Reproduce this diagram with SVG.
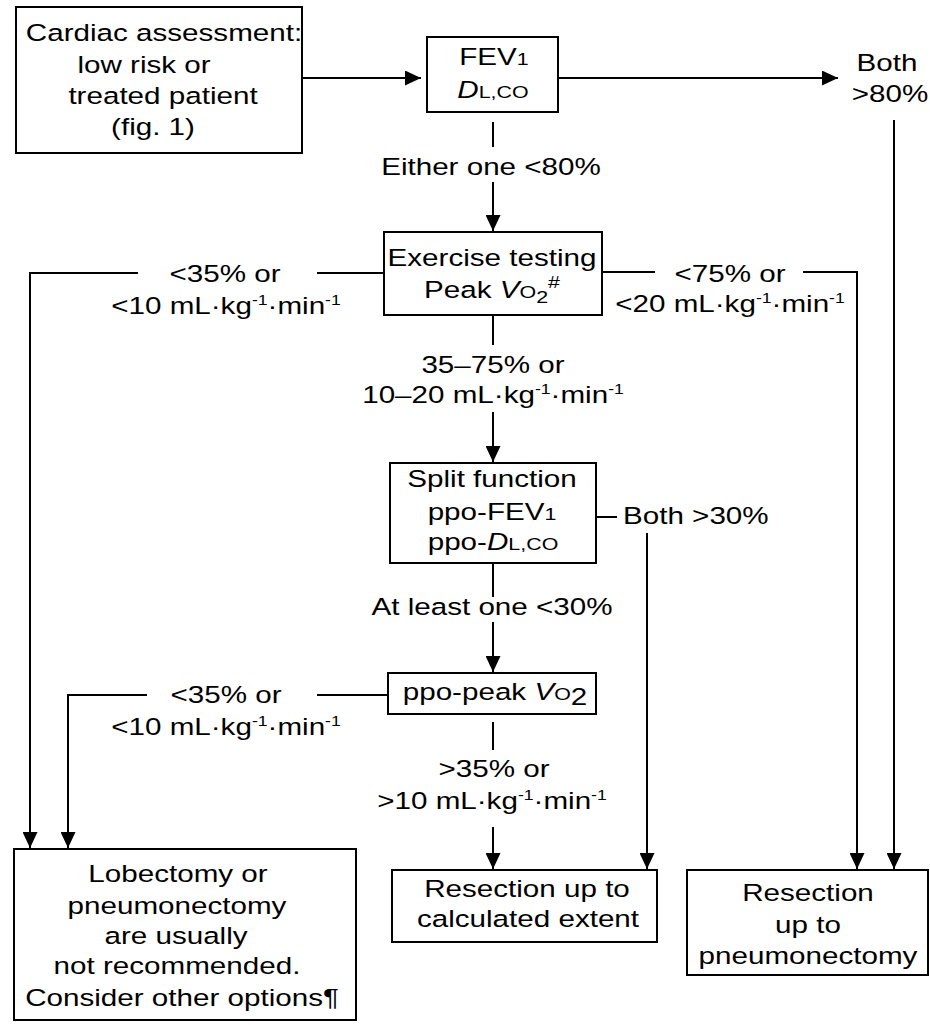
<svg xmlns="http://www.w3.org/2000/svg" width="930" height="1025" viewBox="0 0 930 1025">
<style>
.t{font-family:"Liberation Sans",Arial,Helvetica,sans-serif;font-size:23.5px;fill:#000;text-anchor:middle}
.s{text-anchor:start}
.box{fill:#fff;stroke:#000;stroke-width:2}
.ln{fill:none;stroke:#000;stroke-width:2}
.arr{marker-end:url(#ah)}
.sm{font-size:17px}
.sup{font-size:14px}
</style>
<defs>
<marker id="ah" markerUnits="userSpaceOnUse" markerWidth="17" markerHeight="15" refX="16" refY="7.5" orient="auto">
<path d="M0,0 L16,7.5 L0,15 Z" fill="#000"/>
</marker>
</defs>
<rect width="930" height="1025" fill="#fff"/>

<g id="connectors">
<path class="ln arr" d="M302,78 H421"/>
<path class="ln arr" d="M558,78 H838"/>
<path class="ln" d="M493,122 V147"/>
<path class="ln arr" d="M493,182 V231"/>
<path class="ln arr" d="M894,120 V869"/>
<path class="ln" d="M384,273 H317"/>
<path class="ln arr" d="M138,273 H30 V848"/>
<path class="ln" d="M602,272 H655"/>
<path class="ln arr" d="M803,272 H857 V869"/>
<path class="ln" d="M493,315 V345"/>
<path class="ln arr" d="M493,412 V462"/>
<path class="ln" d="M596,517 H617"/>
<path class="ln arr" d="M647,533 V869"/>
<path class="ln" d="M493,563 V597"/>
<path class="ln arr" d="M493,622 V672"/>
<path class="ln" d="M388,695 H317"/>
<path class="ln arr" d="M147,695 H68 V848"/>
<path class="ln" d="M493,722 V750"/>
<path class="ln arr" d="M493,827 V869"/>
<g id="labels">
<text class="t" transform="translate(887,71) scale(1.26,1)">Both</text>
<text class="t" transform="translate(890,102) scale(1.26,1)">&gt;80%</text>
<text class="t" transform="translate(491,175) scale(1.26,1)">Either one &lt;80%</text>
<text class="t" transform="translate(225,282) scale(1.26,1)">&lt;35% or</text>
<text class="t" transform="translate(226,314) scale(1.26,1)">&lt;10 mL·kg<tspan class="sup" dy="-9">-1</tspan><tspan dy="9">·min</tspan><tspan class="sup" dy="-9">-1</tspan></text>
<text class="t" transform="translate(730,282) scale(1.26,1)">&lt;75% or</text>
<text class="t" transform="translate(730,312) scale(1.26,1)">&lt;20 mL·kg<tspan class="sup" dy="-9">-1</tspan><tspan dy="9">·min</tspan><tspan class="sup" dy="-9">-1</tspan></text>
<text class="t" transform="translate(493,373) scale(1.26,1)">35–75% or</text>
<text class="t" transform="translate(493,403) scale(1.26,1)">10–20 mL·kg<tspan class="sup" dy="-9">-1</tspan><tspan dy="9">·min</tspan><tspan class="sup" dy="-9">-1</tspan></text>
<text class="t s" transform="translate(623,524) scale(1.26,1)">Both &gt;30%</text>
<text class="t" transform="translate(492,615) scale(1.26,1)">At least one &lt;30%</text>
<text class="t" transform="translate(226,703) scale(1.26,1)">&lt;35% or</text>
<text class="t" transform="translate(226,735) scale(1.26,1)">&lt;10 mL·kg<tspan class="sup" dy="-9">-1</tspan><tspan dy="9">·min</tspan><tspan class="sup" dy="-9">-1</tspan></text>
<text class="t" transform="translate(494,777) scale(1.26,1)">&gt;35% or</text>
<text class="t" transform="translate(492,809) scale(1.26,1)">&gt;10 mL·kg<tspan class="sup" dy="-9">-1</tspan><tspan dy="9">·min</tspan><tspan class="sup" dy="-9">-1</tspan></text>
</g>
</g>

<g id="n-cardiac">
<rect class="box" x="16" y="7" width="286" height="146"/>
<text class="t" transform="translate(164,41) scale(1.26,1)">Cardiac assessment:</text>
<text class="t" transform="translate(144,73) scale(1.26,1)">low risk or</text>
<text class="t" transform="translate(163,104) scale(1.26,1)">treated patient</text>
<text class="t" transform="translate(153,135) scale(1.26,1)">(fig. 1)</text>
</g>

<g id="n-fev">
<rect class="box" x="427" y="37" width="131" height="75"/>
<text class="t" transform="translate(494,65) scale(1.26,1)">FEV<tspan class="sm">1</tspan></text>
<text class="t" transform="translate(493,98) scale(1.26,1)"><tspan font-style="italic">D</tspan><tspan class="sm">L,CO</tspan></text>
</g>

<g id="n-exercise">
<rect class="box" x="384" y="232" width="218" height="83"/>
<text class="t" transform="translate(492,266) scale(1.26,1)">Exercise testing</text>
<text class="t" transform="translate(492,298) scale(1.26,1)">Peak <tspan font-style="italic">V</tspan><tspan class="sm">O</tspan><tspan class="sm" dy="5">2</tspan><tspan class="sm" dy="-15">#</tspan></text>
</g>

<g id="n-split">
<rect class="box" x="390" y="463" width="206" height="100"/>
<text class="t" transform="translate(492,487) scale(1.26,1)">Split function</text>
<text class="t" transform="translate(492,520) scale(1.26,1)">ppo-FEV<tspan class="sm">1</tspan></text>
<text class="t" transform="translate(493,550) scale(1.26,1)">ppo-<tspan font-style="italic">D</tspan><tspan class="sm">L,CO</tspan></text>
</g>

<g id="n-ppo">
<rect class="box" x="388" y="673" width="208" height="41"/>
<text class="t" transform="translate(495,700) scale(1.26,1)">ppo-peak <tspan font-style="italic">V</tspan><tspan class="sm">O</tspan><tspan dy="5">2</tspan></text>
</g>

<g id="n-lobectomy">
<rect class="box" x="14" y="849" width="342" height="171"/>
<text class="t" transform="translate(178,882) scale(1.26,1)">Lobectomy or</text>
<text class="t" transform="translate(177,914) scale(1.26,1)">pneumonectomy</text>
<text class="t" transform="translate(176,944) scale(1.26,1)">are usually</text>
<text class="t" transform="translate(177,974) scale(1.26,1)">not recommended.</text>
<text class="t" transform="translate(182,1006) scale(1.26,1)">Consider other options¶</text>
</g>

<g id="n-calc">
<rect class="box" x="392" y="870" width="265" height="72"/>
<text class="t" transform="translate(527,897) scale(1.26,1)">Resection up to</text>
<text class="t" transform="translate(528,927) scale(1.26,1)">calculated extent</text>
</g>

<g id="n-pneumo">
<rect class="box" x="687" y="870" width="241" height="105"/>
<text class="t" transform="translate(808,901) scale(1.26,1)">Resection</text>
<text class="t" transform="translate(808,933) scale(1.26,1)">up to</text>
<text class="t" transform="translate(808,964) scale(1.26,1)">pneumonectomy</text>
</g>
</svg>
